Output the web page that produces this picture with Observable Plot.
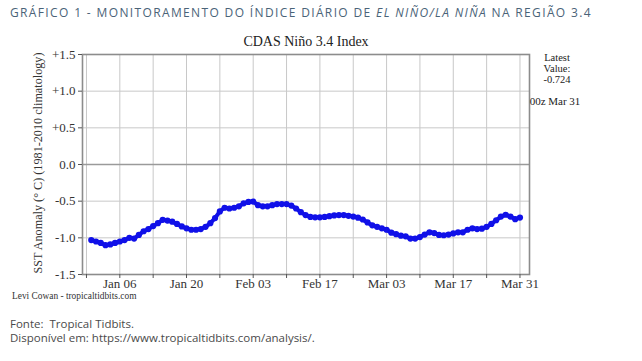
<!DOCTYPE html>
<html>
<head>
<meta charset="utf-8">
<script src="https://cdn.jsdelivr.net/npm/d3@7"></script>
<script src="https://cdn.jsdelivr.net/npm/@observablehq/plot@0.6"></script>
<style>
  html, body { margin: 0; padding: 0; background: #fff; }
  #wrap { position: relative; width: 642px; height: 361px; overflow: hidden; background: #fff; }
  #title { position: absolute; left: 10px; top: 5px; font-family: "Open Sans", sans-serif; font-size: 12px; line-height: 16px; letter-spacing: 1.36px; color: #4a6378; white-space: nowrap; }
  #chart { position: absolute; left: 0; top: 30px; }
  .foot { position: absolute; left: 10px; font-family: "Open Sans", sans-serif; font-size: 11.5px; line-height: 14px; color: #4a4a4a; white-space: nowrap; }
</style>
</head>
<body>
<div id="wrap">
  <div id="title">GRÁFICO 1 - MONITORAMENTO DO ÍNDICE DIÁRIO DE <i>EL NIÑO/LA NIÑA</i> NA REGIÃO 3.4</div>
  <div id="chart"></div>
  <div class="foot" style="top:317px">Fonte:&nbsp; Tropical Tidbits.</div>
  <div class="foot" style="top:331px">Disponível em: https://www.tropicaltidbits.com/analysis/.</div>
</div>
<script>
// Daily Niño 3.4 SST anomaly, 31 Dec 2024 .. 31 Mar 2025
const firstDay = "2024-12-31";
const anomaly = [
  -1.03, -1.05, -1.07, -1.10, -1.09, -1.07,
  -1.05, -1.03, -1.00, -1.01, -0.96, -0.91, -0.88,
  -0.84, -0.80, -0.755, -0.765, -0.78, -0.81, -0.845,
  -0.87, -0.89, -0.89, -0.88, -0.85, -0.80, -0.73,
  -0.64, -0.59, -0.60, -0.59, -0.57, -0.53, -0.51,
  -0.505, -0.555, -0.57, -0.57, -0.555, -0.54, -0.54,
  -0.54, -0.56, -0.60, -0.65, -0.69, -0.715, -0.72,
  -0.72, -0.715, -0.705, -0.695, -0.69, -0.69, -0.70,
  -0.71, -0.725, -0.75, -0.79, -0.83, -0.85, -0.87,
  -0.89, -0.93, -0.95, -0.97, -0.98, -1.01, -1.01,
  -0.99, -0.955, -0.925, -0.935, -0.96, -0.965, -0.955,
  -0.94, -0.925, -0.925, -0.89, -0.87, -0.88, -0.875,
  -0.85, -0.81, -0.76, -0.71, -0.685, -0.71, -0.745,
  -0.724
];
const xLabelDates = ["2025-01-06", "2025-01-20", "2025-02-03", "2025-02-17", "2025-03-03", "2025-03-17", "2025-03-31"];
const yTicks = [-1.5, -1.0, -0.5, 0.0, 0.5, 1.0, 1.5];
const chartTitle = "CDAS Niño 3.4 Index";
const yLabel = "SST Anomaly (° C) (1981-2010 climatology)";
const latestLines = ["Latest", "Value:", "-0.724"];
const latestTime = "00z Mar 31";
const credit = "Levi Cowan - tropicaltidbits.com";

const start = new Date(firstDay + "T00:00:00Z");
const data = anomaly.map((v, i) => ({ date: d3.utcDay.offset(start, i), value: v }));
const xDomain = [new Date(Date.UTC(2024, 11, 29, 4)), new Date(Date.UTC(2025, 3, 2, 0))];
const weeks = d3.utcMonday.range(xDomain[0], xDomain[1]);
const labelDates = xLabelDates.map(s => new Date(s + "T00:00:00Z"));
const blue = "#1010e8";
const serif = "'Liberation Serif', 'DejaVu Serif', serif";

const W = 642, H = 275, mT = 24, mB = 31, mL = 82, mR = 113;

const plot = Plot.plot({
  width: W, height: H,
  marginTop: mT, marginBottom: mB, marginLeft: mL, marginRight: mR,
  style: { fontFamily: serif, fontSize: "13px", color: "#333", background: "#fff", overflow: "visible" },
  x: { type: "utc", domain: xDomain },
  y: { domain: [-1.5, 1.5] },
  marks: [
    Plot.gridX(weeks, { stroke: "#c8c8c8", strokeOpacity: 1, strokeWidth: 1 }),
    Plot.gridY(yTicks.filter(v => v !== 0), { stroke: "#c8c8c8", strokeOpacity: 1, strokeWidth: 1 }),
    Plot.ruleY([0], { stroke: "#9a9a9a", strokeWidth: 1.6 }),
    Plot.frame({ stroke: "#8c8c8c", strokeWidth: 1.6 }),
    Plot.axisY(yTicks, { tickSize: 4, tickPadding: 3, tickFormat: v => (v > 0 ? "+" : "") + v.toFixed(1), label: null, fontSize: 13, stroke: "#555" }),
    Plot.axisX(weeks, { tickSize: 4, tickFormat: () => "", label: null, stroke: "#555" }),
    Plot.axisX(labelDates, { tickSize: 0, tickPadding: 4, tickFormat: d3.utcFormat("%b %d"), label: null, fontSize: 13 }),
    Plot.line(data, { x: "date", y: "value", stroke: blue, strokeWidth: 4 }),
    Plot.dot(data, { x: "date", y: "value", r: 3.1, fill: blue })
  ]
});
document.getElementById("chart").appendChild(plot);

const svg = d3.select(plot);
const g = svg.append("g").attr("font-family", serif).attr("fill", "#222");
g.append("text").attr("x", 306).attr("y", 16).attr("text-anchor", "middle").attr("font-size", 14).text(chartTitle);
g.append("text").attr("transform", "translate(38,133) rotate(-90)").attr("text-anchor", "middle").attr("dy", "0.35em").attr("font-size", 12.2).attr("fill", "#333").text(yLabel);
latestLines.forEach((t, i) => {
  g.append("text").attr("x", 557).attr("y", 27 + i * 11).attr("dy", "0.35em").attr("text-anchor", "middle").attr("font-size", 10.5).text(t);
});
g.append("text").attr("x", 555).attr("y", 71).attr("dy", "0.35em").attr("text-anchor", "middle").attr("font-size", 11).text(latestTime);
g.append("text").attr("x", 12).attr("y", 266).attr("dy", "0.35em").attr("text-anchor", "start").attr("font-size", 9.4).attr("fill", "#333").text(credit);
</script>
</body>
</html>
